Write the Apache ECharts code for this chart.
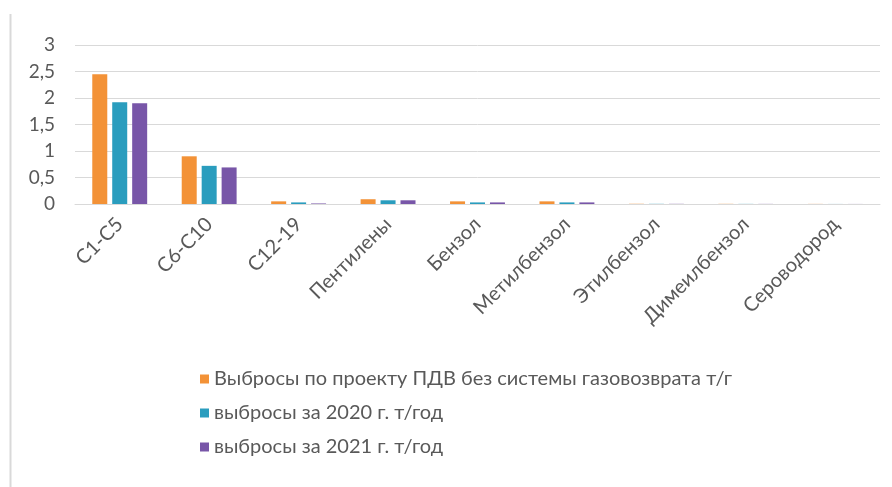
<!DOCTYPE html>
<html>
<head>
<meta charset="utf-8">
<script src="https://cdn.jsdelivr.net/npm/echarts@6/dist/echarts.min.js"></script>
<style>html,body{margin:0;padding:0;background:#fff}#c{width:892px;height:487px}</style>
</head>
<body>
<div id="c"></div>
<script>
var categories = ['C1-C5','C6-C10','C12-19','Пентилены','Бензол','Метилбензол','Этилбензол','Димеилбензол','Сероводород'];
var seriesNames = ['Выбросы по проекту ПДВ без системы газовозврата т/г','выбросы за 2020 г. т/год','выбросы за 2021 г. т/год'];
var valuesPDV = [2.45, 0.9, 0.05, 0.09, 0.05, 0.05, 0.004, 0.003, 0.002];
var values2020 = [1.92, 0.72, 0.03, 0.07, 0.03, 0.03, 0.003, 0.002, 0.001];
var values2021 = [1.9, 0.69, 0.01, 0.07, 0.03, 0.03, 0.003, 0.002, 0.001];
var yTickLabels = ['0','0,5','1','1,5','2','2,5','3'];

var colors = ['#F39237','#2A9DBE','#7856A8'];
var chart = echarts.init(document.getElementById('c'));
var font = 'Lato, "Open Sans", sans-serif';
function mk(name, data, color){
  return {name:name, type:'bar', data:data, barWidth:15, barGap:'33%', itemStyle:{color:color}};
}
chart.setOption({
  animation:false,
  color:colors,
  grid:{left:75, right:12, top:45, bottom:283, containLabel:false},
  legend:{orient:'vertical', left:195, top:364, itemWidth:9, itemHeight:9, itemGap:14, icon:'rect',
    textStyle:{color:'#595959', fontSize:20, fontFamily:font}, data:seriesNames},
  xAxis:{type:'category', data:categories,
    axisLine:{show:true, lineStyle:{color:'#d9d9d9'}}, axisTick:{show:false},
    axisLabel:{rotate:45, color:'#595959', fontSize:20, fontFamily:font, margin:17, interval:0}},
  yAxis:{type:'value', min:0, max:3, interval:0.5,
    axisLine:{show:false}, axisTick:{show:false},
    splitLine:{lineStyle:{color:'#d9d9d9'}},
    axisLabel:{color:'#595959', fontSize:19, fontFamily:font, margin:20,
      formatter:function(v){ return yTickLabels[Math.round(v/0.5)]; }}},
  graphic:[
    {type:'line', shape:{x1:10.5,y1:14,x2:10.5,y2:487}, style:{stroke:'#d9d9d9', lineWidth:2}}
  ],
  series:[mk(seriesNames[0], valuesPDV, colors[0]), mk(seriesNames[1], values2020, colors[1]), mk(seriesNames[2], values2021, colors[2])]
});
</script>
</body>
</html>
